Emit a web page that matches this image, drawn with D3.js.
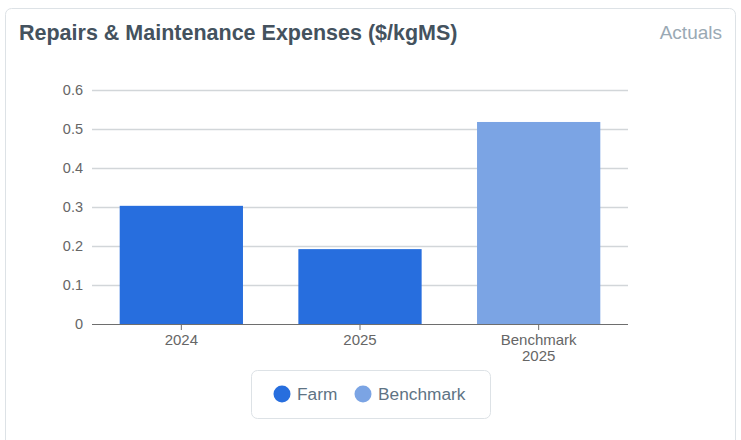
<!DOCTYPE html>
<html>
<head>
<meta charset="utf-8">
<script src="https://cdn.jsdelivr.net/npm/d3@7"></script>
<style>
  html, body { margin: 0; padding: 0; background: #fff; }
  svg { display: block; font-family: "Liberation Sans", Arial, Helvetica, sans-serif; }
</style>
</head>
<body>
<svg id="chart" width="741" height="440"></svg>
<script>
// Repairs & maintenance expenses per kgMS
const categories = [["2024"], ["2025"], ["Benchmark", "2025"]];
const values = [0.303, 0.192, 0.518];
const seriesOf = ["Farm", "Farm", "Benchmark"];
const seriesNames = ["Farm", "Benchmark"];
const seriesColors = ["#276ede", "#7ba4e4"];
const yTicks = [0, 0.1, 0.2, 0.3, 0.4, 0.5, 0.6];

const svg = d3.select("#chart");

// card frame
svg.append("rect")
  .attr("x", 5.5).attr("y", 8.5).attr("width", 730).attr("height", 450)
  .attr("rx", 6).attr("fill", "#fff").attr("stroke", "#dde2e6");

svg.append("text")
  .attr("x", 19).attr("y", 40)
  .attr("font-size", 21.5).attr("font-weight", "bold").attr("fill", "#44525e")
  .text("Repairs & Maintenance Expenses ($/kgMS)");

svg.append("text")
  .attr("x", 722).attr("y", 39).attr("text-anchor", "end")
  .attr("font-size", 19).attr("fill", "#9aa9b4")
  .text("Actuals");

const plot = { left: 92, right: 628, top: 90, bottom: 324 };

const x = d3.scaleBand()
  .domain(categories.map((c, i) => i))
  .range([plot.left, plot.right])
  .paddingInner(0.31).paddingOuter(0.155);

const y = d3.scaleLinear().domain([0, 0.6]).range([plot.bottom, plot.top]);

const color = d3.scaleOrdinal().domain(seriesNames).range(seriesColors);

// horizontal grid
svg.append("g")
  .selectAll("line")
  .data(yTicks.filter(t => t > 0))
  .join("line")
  .attr("x1", plot.left).attr("x2", plot.right)
  .attr("y1", d => Math.round(y(d)) + 0.5).attr("y2", d => Math.round(y(d)) + 0.5)
  .attr("stroke", "#d2d6d9").attr("stroke-width", 1.4);

// y axis labels
const yAxis = svg.append("g")
  .attr("transform", `translate(${plot.left},0)`)
  .call(d3.axisLeft(y).tickValues(yTicks).tickSize(0).tickPadding(9).tickFormat(d => d3.format("~g")(d)));
yAxis.select(".domain").remove();
yAxis.selectAll("text").attr("font-size", 14.5).attr("fill", "#666").attr("font-family", "Liberation Sans, Arial, sans-serif");

// bars
svg.append("g")
  .selectAll("rect")
  .data(values)
  .join("rect")
  .attr("x", (d, i) => x(i))
  .attr("width", x.bandwidth())
  .attr("y", d => y(d))
  .attr("height", d => y(0) - y(d))
  .attr("fill", (d, i) => color(seriesOf[i]));

// x axis
const xAxis = svg.append("g")
  .attr("transform", `translate(0,${plot.bottom})`)
  .call(d3.axisBottom(x).tickSize(6).tickPadding(4).tickFormat(() => ""));
xAxis.select(".domain").attr("stroke", "#6e6e6e").attr("d", `M${plot.left},0.5H${plot.right}`);
xAxis.selectAll(".tick line").attr("stroke", "#6e6e6e");
xAxis.selectAll(".tick text").remove();

svg.append("g")
  .selectAll("text")
  .data(categories)
  .join("text")
  .attr("x", (d, i) => x(i) + x.bandwidth() / 2)
  .attr("y", 345)
  .attr("text-anchor", "middle")
  .attr("font-size", 15).attr("fill", "#666")
  .each(function(lines) {
    d3.select(this).selectAll("tspan")
      .data(lines)
      .join("tspan")
      .attr("x", d3.select(this).attr("x"))
      .attr("dy", (l, j) => j === 0 ? 0 : 16)
      .text(l => l);
  });

// legend
const legend = svg.append("g");
legend.append("rect")
  .attr("x", 251.5).attr("y", 370.5).attr("width", 239).attr("height", 48)
  .attr("rx", 6).attr("fill", "#fff").attr("stroke", "#dde2e6");

const legendX = [282, 363];
const items = legend.selectAll("g.item")
  .data(seriesNames)
  .join("g").attr("class", "item")
  .attr("transform", (d, i) => `translate(${legendX[i]},394)`);
items.append("circle").attr("r", 8.5).attr("fill", d => color(d));
items.append("text")
  .attr("x", 15).attr("y", 6)
  .attr("font-size", 17.3).attr("fill", "#5e7384")
  .text(d => d);
</script>
</body>
</html>
